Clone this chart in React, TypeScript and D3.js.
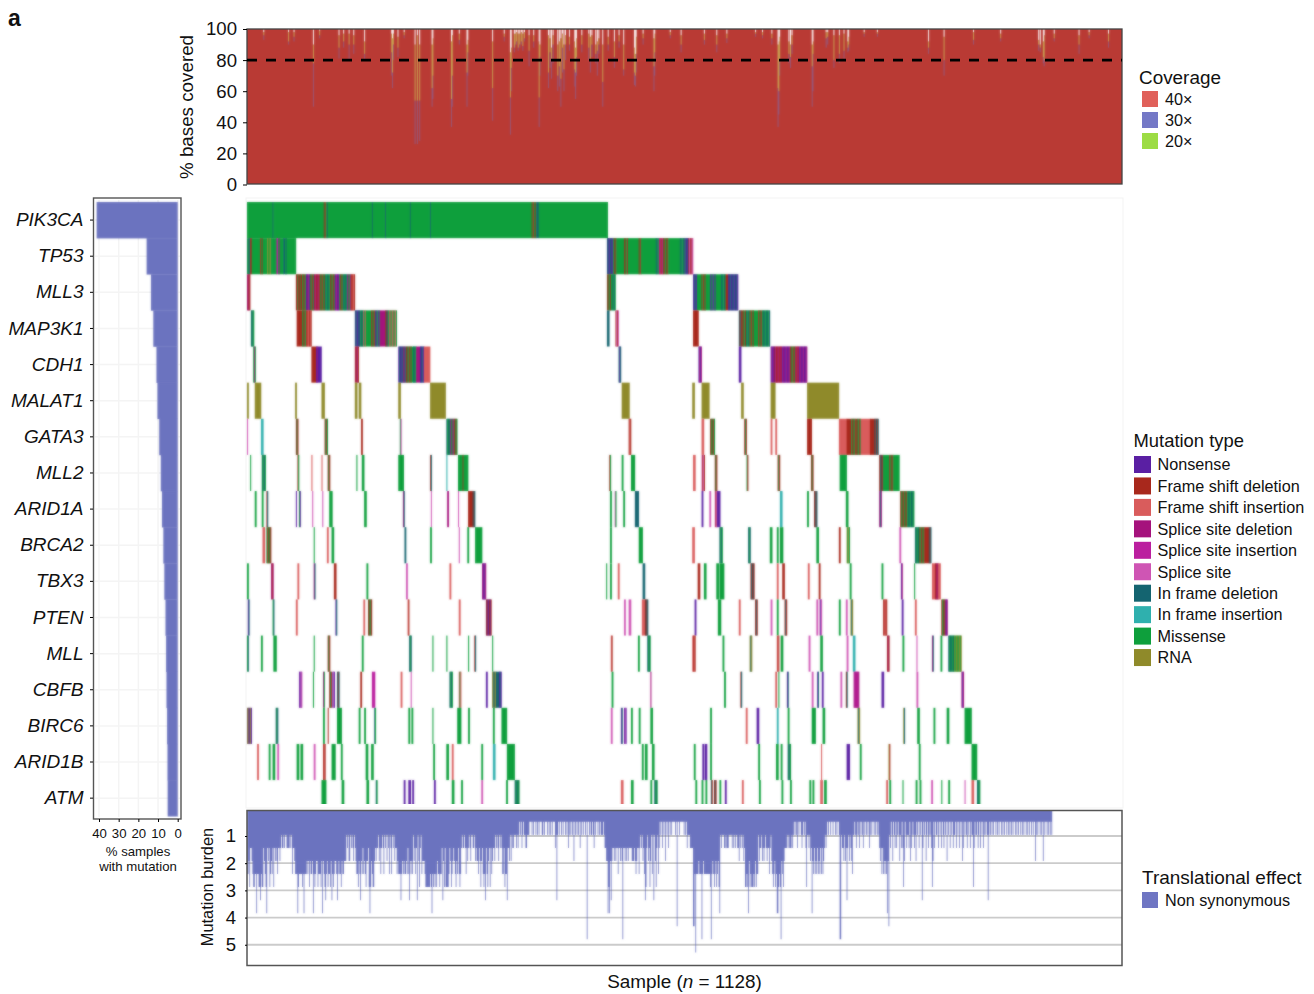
import { useEffect, useRef } from 'react'
import * as d3 from 'd3'

const genes = ['PIK3CA', 'TP53', 'MLL3', 'MAP3K1', 'CDH1', 'MALAT1', 'GATA3', 'MLL2', 'ARID1A', 'BRCA2', 'TBX3', 'PTEN', 'MLL', 'CBFB', 'BIRC6', 'ARID1B', 'ATM']
const percentMutated = [41.2, 15.8, 13.6, 12.4, 10.8, 10.3, 9.4, 8.6, 8.0, 7.3, 6.8, 6.2, 5.9, 5.7, 5.4, 5.2, 5.1]

const nSamples = 1128

const mutationLabels = ['Nonsense', 'Frame shift deletion', 'Frame shift insertion', 'Splice site deletion', 'Splice site insertion', 'Splice site', 'In frame deletion', 'In frame insertion', 'Missense', 'RNA']
const mutationCodes = ['N', 'D', 'I', 'P', 'Q', 'S', 'T', 'U', 'M', 'R']
const mutationColors = ['#5a1fa3', '#a8281c', '#d95c5c', '#a5127c', '#bb1f9f', '#cf55b4', '#146470', '#2fb0ae', '#0e9f3c', '#8f8a2a']

// one string per gene: <first sample><type(s)><number of samples>
// several letters = the samples in that stretch alternate between those types
const pik3ca = '0M465 33TM2 99DM3 102MT3 161TM2 178TM2 210TM2 236TM2 367DM6 373T3'
const tp53 = '0MT4 4D2 6M10 16MD4 20M6 26RM6 32M6 38Q2 40MP3 43M4 47T2 49MT2 51M12 464TN8 472MD5 477M8 485MD6 491M14 505DM4 509M17 526MT5 531QD6 537MD7 544M14 558TM6 564NT5 569DS6'
const mll3 = '0PD4 63DDM9 72DM4 76NP5 81MD5 86PD8 94MD6 100MT7 107DM6 113PN6 119MD4 123MT6 129PM5 134DI5 464DM6 470MT5 575NT5 580M6 586DM5 591M6 597NM7 604M7 611TM6 617D3 620NT13'
const map3k1 = '5TM4 64D6 70DM6 76DI7 139TN6 145TM5 150IM4 154M6 160DM5 165NM6 171P7 178DT4 182MI11 464T3 475DS4 575D7 634TD4 638DM5 643MT5 648DM6 654M5 659DM5 664MT10'
const cdh1 = '8MP3 83D6 89NP2 91N5 139DP5 195NT6 201PT4 205DM8 213MT5 218P5 223NT5 228I8 479TN3 582NP4 634N3 675NP5 680DP10 690NP10 700DM6 706DP6 712NP10'
const malat1 = '0R2 10R8 62R2 96R4 139R3 144R3 195R3 236R20 483R10 574R3 586R10 637R3 675R6 722R41'
const gata3 = '0S1 18U3 63DM3 100DM4 147D2 197MS2 257TM5 262PM5 267DM4 492DI3 586I3 597DM6 641DM3 675I2 681I2 722D6 763I10 773D5 778DM7 785DM6 791I12 803D5 808DT6'
const mll2 = '4M1 19MT5 65DM2 83I1 96I1 104DM3 141M1 148M3 195M7 236DT2 257U1 272M6 278DM2 280M5 467DM2 483M2 495M5 575I3 586SD4 603DM3 644MD2 684DM3 727DM3 764M9 815DT5 820M7 827MD6 833M8'
const arid1a = '10M2 19M2 25DT2 63N1 67MN2 84S1 97S1 106M4 151M3 201PT2 237S1 258P2 272S1 285D5 290DT4 468M2 474SM2 485M2 500T5 586N2 596S2 603SD3 606N4 687U3 722M2 731DT4 772M3 815PT3 842DM9 851MT9'
const brca2 = '20I3 25MD6 86M1 103I2 109M3 203T2 236M2 273S1 284M2 294M9 468M2 505M5 574I3 609TM4 646TM3 674M3 683M2 687M4 734M3 763D2 773RM4 841S2 861TM6 867DM6 873D5 878DT4'
const tbx3 = '0M2 31PD3 65I2 86PT2 112D3 154M2 205S2 261I2 303PN5 463M1 468M2 478I2 510T3 581D3 589M3 605M3 609M6 649DT5 683I2 690D3 723I2 737D2 777M2 818M2 843NP2 860M1 883I4 887DP4 891I3'
const pten = '1NT2 33MT2 63I2 114NT2 150I2 156DM5 207ID2 273I2 308DN7 486S2 492S3 509I4 513DT4 577N2 607M4 634I2 655DT3 675S2 683M2 693DT3 734S2 738SN3 763M2 772S2 778RT3 820DI5 844N2 861I2 895DM5 900PN3'
const mll = '0MT2 18M2 34M4 86M1 104DM3 148M2 209TM3 239M1 257M1 285M1 293DT2 316M1 469ID2 504M2 516TM4 574ID4 613M2 648RT3 683ID3 688M3 724S2 739M3 773S2 781U3 825DP3 845M2 863S1 883PT2 894M2 904TM8 912RM9'
const cbfb = '67NS4 85M1 98PM2 106DM3 110NS3 116TD3 146D2 161Q4 198I2 211S1 261TM4 273IM3 308N2 316RT12 322T3 325NT3 470M2 520PS1 615M2 636DT2 681I2 685M1 696NT2 728S2 735NT2 741N2 765S2 772DT2 782PQ7 818N3 863S2 921PN3'
const birc6 = '0RN6 37TM3 98M2 104DM1 116M6 144M2 151M2 164TM2 208M2 212M2 239M1 271M5 285M2 317M2 328M7 469S2 482NT2 486NS3 495M2 505M2 520M3 597M2 643I2 657N3 683U2 697M2 728M5 742M3 787RT3 846RT2 864M3 885M2 902M3 925M9'
const arid1b = '13I2 28M2 33M3 39S2 64M3 69M3 86S2 98DI3 109M5 121M2 153M3 160M3 240M2 257M3 264I2 302M2 317U3 335M10 509M2 513M3 522M3 576M2 587N2 590N3 597M2 659M2 682M3 688M2 697TM4 740I1 773N4 790M2 827RD2 866M2 934M7'
const atm = '96M6 122M3 154M3 166TM2 202N2 208N3 213N2 241N2 264M3 276M2 302S2 334M2 345TM6 482I3 495M3 520M2 525TM4 578M2 586M2 591M2 598TD2 602DT3 609M2 616N2 638I2 660M2 689M2 700M2 725M2 729M2 739I3 744M3 824I2 828M2 845M1 862M2 867M2 882S2 895M1 904M2 925S1 934I3 941TM4'
const mutationRuns = [pik3ca, tp53, mll3, map3k1, cdh1, malat1, gata3, mll2, arid1a, brca2, tbx3, pten, mll, cbfb, birc6, arid1b, atm]

const coverageLabels = ['40×', '30×', '20×']
const coverageColors = ['#e0605a', '#7478c6', '#9cdc44']
const coverageTicks = [0, 20, 40, 60, 80, 100]
// samples that dip below 100%: [sample, % at 40x, % at 30x, % at 20x]
const coverageDips = [
  [21, 93, 96, 98], [53, 90, 92, 98], [60, 92, 95, 98], [85, 50, 78, 90], [93, 94, 96, 99], [118, 81, 88, 96], [124, 88, 92, 97],
  [131, 80, 90, 97], [137, 84, 90, 96], [151, 80, 84, 92], [186, 70, 85, 97], [187, 62, 72, 94], [188, 80, 90, 97], [194, 82, 88, 95],
  [202, 94, 96, 98], [216, 26, 54, 90], [219, 26, 54, 96], [222, 28, 54, 90], [238, 50, 62, 90], [239, 55, 70, 94], [263, 37, 55, 92], [264, 50, 70, 96],
  [273, 90, 93, 97], [283, 50, 72, 90], [284, 70, 85, 93], [316, 41, 62, 92], [331, 92, 95, 97], [339, 32, 56, 85], [340, 60, 75, 88],
  [344, 85, 88, 97], [345, 88, 90, 97], [347, 90, 92, 98], [349, 86, 88, 97], [351, 88, 90, 97], [353, 90, 92, 98], [355, 86, 89, 97],
  [357, 92, 94, 98], [363, 76, 86, 96], [369, 88, 92, 96], [376, 37, 56, 92], [377, 70, 82, 90], [388, 62, 72, 96], [390, 75, 85, 94],
  [392, 68, 80, 88], [394, 78, 90, 96], [400, 60, 70, 90], [402, 63, 76, 92], [404, 50, 68, 94], [406, 72, 88, 97], [408, 60, 74, 90],
  [410, 80, 90, 96], [415, 86, 90, 95], [422, 63, 74, 92], [423, 55, 72, 88], [424, 70, 82, 94], [431, 85, 90, 96], [440, 80, 88, 97],
  [442, 72, 80, 95], [444, 82, 90, 96], [449, 78, 84, 90], [451, 70, 86, 92], [453, 84, 90, 94], [458, 50, 66, 90], [465, 86, 90, 95],
  [473, 75, 82, 92], [479, 88, 92, 96], [485, 70, 74, 90], [499, 64, 72, 88], [500, 63, 70, 84], [501, 72, 84, 95], [510, 90, 94, 97],
  [524, 60, 76, 94], [525, 70, 85, 97], [545, 94, 96, 98], [559, 85, 90, 96], [589, 90, 93, 97], [605, 85, 90, 96], [618, 91, 94, 97],
  [655, 95, 97, 98], [664, 94, 96, 98], [676, 90, 94, 97], [684, 37, 62, 90], [685, 45, 60, 92], [686, 70, 80, 95], [698, 78, 84, 92],
  [700, 75, 82, 90], [702, 84, 90, 96], [728, 50, 76, 90], [729, 60, 84, 92], [746, 88, 94, 98], [748, 90, 95, 98], [756, 75, 80, 96],
  [763, 78, 84, 96], [769, 80, 86, 97], [774, 85, 88, 92], [775, 86, 90, 95], [795, 95, 97, 98], [812, 95, 97, 98], [878, 84, 88, 92],
  [898, 70, 80, 95], [936, 90, 93, 98], [971, 92, 94, 97], [1020, 86, 90, 93], [1022, 85, 88, 90], [1026, 78, 82, 92], [1027, 76, 80, 96],
  [1040, 92, 94, 97], [1072, 84, 90, 96], [1085, 94, 96, 98], [1110, 88, 92, 97],
]

// mutations per sample, one digit per sample (a = 10, b = 11): [first sample, digits]
const burdenUnit = 0.48
const burdenTicks = [1, 2, 3, 4, 5]
const burdenBody: [number, string][] = [
  [0, '5546334566556556665663456434'], [28, '3654536343453343'], [44, '2332322333323253'], [60, '34555665555656555'],
  [77, '4546455445654465556454565546556455654456545564554'], [126, '44'], [128, '232442323423'], [140, '455645345354564436564566'],
  [164, '4343324'], [171, '3532352324235235'], [187, '2324'], [191, '33545554545455453544545'], [214, '24353424632544'],
  [228, '456666665665656'], [243, '56455655'], [251, '3546366665346543456453565'], [276, '3233235343234223324'],
  [295, '3445346435654356436354334'], [320, '232342323553655433424233222323'], [350, '212132122332221'],
  [365, '11212112121211122121112121212111321212112121'], [409, '1212132121214121212131212112121'], [440, '121221231211212122212'],
  [461, '33446664343343433533434433434343334'], [495, '344434543353'], [507, '2324352632436425232463253'],
  [532, '12131214121312'], [546, '12111121211211111212132'], [569, '22333'], [574, '34555555455555455555555655'],
  [600, '4565465465'], [610, '232223323332222323232'], [631, '2334232324'], [641, '366566465666564655'],
  [659, '24332434323433532'], [676, '456546546656345643'], [694, '33232333232'], [705, '121231211232121312'],
  [723, '23243545354535'], [737, '45353543232'], [748, '121121121121211212'], [766, '2334243232423452'], [782, '212321232'],
  [790, '1212312121213212112121212'], [815, '3435354545645'], [828, '231241231321242313241232231432123241'],
  [864, '2131212312142132'], [880, '123141312213121312312141213121322131213121431212312131221312'], [940, '2132131213212'],
  [953, '121212121211212121121212112121212'], [986, '1211212121121212112121211212112'], [1017, '212112121212112121'], [1035, '212'],
]
// the tall single samples: [sample, mutations]
const burdenPeaks = [
  [12, 8], [17, 7], [25, 8], [65, 8], [73, 8], [85, 8], [97, 8], [101, 7], [109, 7], [116, 7], [146, 7], [158, 8], [198, 7], [209, 7],
  [219, 7], [238, 8], [252, 7], [307, 7], [335, 7], [399, 7], [438, 10], [465, 8], [467, 8], [469, 7], [484, 10], [513, 7], [524, 7],
  [554, 9], [575, 9], [576, 9], [578, 11], [586, 10], [598, 10], [609, 8], [646, 8], [683, 8], [684, 8], [688, 10], [721, 6], [728, 8],
  [764, 10], [765, 10], [773, 7], [825, 8], [827, 9], [846, 6], [870, 7], [883, 6], [936, 6], [955, 7], [1016, 4], [1026, 4],
]

function expandRuns(text: string) {
  // sample -> type code, later tokens paint over earlier ones
  const cells = new Map<number, string>()
  text.split(' ').forEach((token) => {
    const m = token.match(/^(\d+)([A-Z]+)(\d*)$/)
    if (!m) return
    const start = +m[1]
    const len = m[3] ? +m[3] : 1
    for (let i = 0; i < len; i++) cells.set(start + i, m[2][i % m[2].length])
  })
  return cells
}

function burdenBySample() {
  const values = new Array(nSamples).fill(0)
  burdenBody.forEach(([start, digits]) => {
    digits.split('').forEach((c, i) => {
      values[start + i] = parseInt(c, 16)
    })
  })
  burdenPeaks.forEach(([s, k]) => {
    values[s] = k
  })
  return values
}

function App() {
  const svgRef = useRef<SVGSVGElement>(null)

  useEffect(() => {
    const svg = d3.select(svgRef.current)
    svg.selectAll('*').remove()
    svg.attr('font-family', '"Liberation Sans", Arial, sans-serif').attr('fill', '#111')

    const panelLeft = 247
    const panelRight = 1122
    const x = d3.scaleLinear().domain([0, nSamples]).range([panelLeft, panelRight])

    // the reference is a soft scan. a blur below 0.8 does nothing in the browser,
    // so take the smallest real one and mix it with the sharp picture
    const defs = svg.append('defs')
    const addBlur = (id: string, amount: string, mix: number) => {
      const f = defs.append('filter').attr('id', id)
        .attr('color-interpolation-filters', 'sRGB')
        .attr('x', '-2%').attr('y', '-2%').attr('width', '104%').attr('height', '104%')
      f.append('feGaussianBlur').attr('stdDeviation', amount).attr('result', 'b')
      f.append('feComposite').attr('in', 'b').attr('in2', 'SourceGraphic')
        .attr('operator', 'arithmetic')
        .attr('k1', 0).attr('k2', mix).attr('k3', 1 - mix).attr('k4', 0)
    }
    addBlur('soft', '0.95 0.9', 0.6)
    addBlur('softBars', '0.9 0.9', 0.6)
    addBlur('softBurden', '0.95 0.9', 0.55)
    addBlur('softCov', '0.95 0.95', 0.6)
    defs.append('clipPath').attr('id', 'heatClip').append('rect').attr('x', panelLeft - 1).attr('y', 198).attr('width', panelRight - panelLeft + 2).attr('height', 606)
    defs.append('clipPath').attr('id', 'burdenClip').append('rect').attr('x', panelLeft).attr('y', 811).attr('width', panelRight - panelLeft).attr('height', 154)
    defs.append('clipPath').attr('id', 'covClip').append('rect').attr('x', panelLeft).attr('y', 29).attr('width', panelRight - panelLeft).attr('height', 155)

    svg.append('text').attr('x', 8).attr('y', 26).attr('font-size', 23).attr('font-weight', 'bold').text('a')

    // coverage panel
    const yCov = d3.scaleLinear().domain([0, 100]).range([184.5, 29])
    const cov = svg.append('g').attr('clip-path', 'url(#covClip)').append('g').attr('filter', 'url(#softCov)')
    cov.append('rect')
      .attr('x', x(0) - 5).attr('width', x(nSamples) - x(0) + 10)
      .attr('y', yCov(100) - 5).attr('height', yCov(0) - yCov(100) + 10)
      .attr('fill', '#b93a34')
    const covLayers: [number, number, string, number][] = [
      [1, 2, coverageColors[1], 0.5],
      [2, 3, '#cfd060', 0.7],
    ]
    covLayers.forEach(([a, b, color, alpha]) => {
      cov.append('g').selectAll('rect').data(coverageDips).join('rect')
        .attr('x', (d) => x(d[0])).attr('width', x(1) - x(0) + 0.2)
        .attr('y', (d) => yCov(d[b])).attr('height', (d) => yCov(d[a]) - yCov(d[b]))
        .attr('fill', color).attr('fill-opacity', alpha)
    })
    cov.append('g').selectAll('rect').data(coverageDips).join('rect')
      .attr('x', (d) => x(d[0])).attr('width', x(1) - x(0) + 0.2)
      .attr('y', yCov(100)).attr('height', (d) => yCov(d[3]) - yCov(100))
      .attr('fill', '#fff')
    svg.append('rect')
      .attr('x', panelLeft).attr('y', 29).attr('width', panelRight - panelLeft).attr('height', 155)
      .attr('fill', 'none').attr('stroke', '#444').attr('stroke-width', 1.3)
    svg.append('line')
      .attr('x1', panelLeft).attr('x2', panelRight)
      .attr('y1', yCov(80)).attr('y2', yCov(80))
      .attr('stroke', '#000').attr('stroke-width', 2.6).attr('stroke-dasharray', '10 9')

    const covAxis = svg.append('g').attr('transform', `translate(${panelLeft},0)`)
      .call(d3.axisLeft(yCov).tickValues(coverageTicks).tickSize(4).tickPadding(6))
    covAxis.select('.domain').remove()
    covAxis.selectAll('text').attr('font-size', 18.6).attr('font-family', null).attr('fill', '#111')

    svg.append('text')
      .attr('transform', 'translate(193,107) rotate(-90)')
      .attr('text-anchor', 'middle').attr('font-size', 18.8)
      .text('% bases covered')

    // mutation matrix
    const yGene = d3.scaleBand().domain(genes).range([202, 202 + 17 * 36.13])
    svg.append('rect')
      .attr('x', panelLeft - 1).attr('y', 198).attr('width', panelRight - panelLeft + 2).attr('height', 610)
      .attr('fill', '#fff').attr('stroke', '#f3f3f3')
    const colorOf = d3.scaleOrdinal<string, string>().domain(mutationCodes).range(mutationColors)
    const heat = svg.append('g').attr('clip-path', 'url(#heatClip)').append('g').attr('filter', 'url(#soft)')
    genes.forEach((gene, g) => {
      const cells = expandRuns(mutationRuns[g])
      const samples = Array.from(cells.keys()).sort((a, b) => a - b)
      // merge neighbouring samples of one type
      const rects: { start: number; end: number; type: string; joined: boolean }[] = []
      samples.forEach((s) => {
        const last = rects[rects.length - 1]
        const type = cells.get(s) as string
        if (last && last.end === s && last.type === type) last.end = s + 1
        else rects.push({ start: s, end: s + 1, type, joined: false })
      })
      rects.forEach((r) => {
        r.joined = cells.has(r.end)
      })
      heat.append('g').selectAll('rect').data(rects).join('rect')
        .attr('x', (d) => x(d.start))
        .attr('width', (d) => x(d.end) - x(d.start) + (d.joined ? 0.5 : 0.3))
        .attr('y', yGene(gene) as number)
        .attr('height', yGene.bandwidth())
        .attr('fill', (d) => colorOf(d.type))
    })

    // % samples bars on the left
    const xPct = d3.scaleLinear().domain([0, 40]).range([177.7, 99])
    const bars = svg.append('g')
    bars.append('rect').attr('x', 93.5).attr('y', 198).attr('width', 87.5).attr('height', 621).attr('fill', '#fff')
    xPct.ticks(4).forEach((t) => {
      bars.append('line').attr('x1', xPct(t)).attr('x2', xPct(t)).attr('y1', 200).attr('y2', 817).attr('stroke', '#f4f4f4').attr('stroke-width', 1.5)
    })
    genes.forEach((gene) => {
      const yMid = (yGene(gene) as number) + yGene.bandwidth() / 2
      bars.append('line').attr('x1', 95).attr('x2', 180).attr('y1', yMid).attr('y2', yMid).attr('stroke', '#f4f4f4').attr('stroke-width', 1.5)
    })
    bars.append('g').attr('filter', 'url(#softBars)').selectAll('rect').data(percentMutated).join('rect')
      .attr('x', (d) => xPct(d))
      .attr('width', (d) => xPct(0) - xPct(d))
      .attr('y', (_, i) => yGene(genes[i]) as number)
      .attr('height', yGene.bandwidth() + 0.3)
      .attr('fill', '#6b73bf')
    bars.append('rect').attr('x', 93.5).attr('y', 198).attr('width', 87.5).attr('height', 621)
      .attr('fill', 'none').attr('stroke', '#555').attr('stroke-width', 1.4)

    const geneAxis = svg.append('g').attr('transform', 'translate(93,0)')
      .call(d3.axisLeft(yGene).tickSize(3).tickPadding(6.5))
    geneAxis.select('.domain').remove()
    geneAxis.selectAll('text').attr('font-size', 19).attr('font-style', 'italic').attr('font-family', null).attr('fill', '#111')

    const pctAxis = svg.append('g').attr('transform', 'translate(0,819)')
      .call(d3.axisBottom(xPct).ticks(4).tickSize(3).tickPadding(7))
    pctAxis.select('.domain').remove()
    pctAxis.selectAll('text').attr('font-size', 13.2).attr('font-family', null).attr('fill', '#111')

    const pctTitle = svg.append('text').attr('text-anchor', 'middle').attr('font-size', 13.2)
    pctTitle.append('tspan').attr('x', 138).attr('y', 856).text('% samples')
    pctTitle.append('tspan').attr('x', 138).attr('y', 871).text('with mutation')

    // mutation burden panel
    const yBurden = d3.scaleLinear().domain([0, 5.7]).range([808.8, 963.8])
    svg.append('rect').attr('x', panelLeft).attr('y', 811).attr('width', panelRight - panelLeft).attr('height', 154).attr('fill', '#fff')
    burdenTicks.forEach((t) => {
      svg.append('line').attr('x1', panelLeft).attr('x2', panelRight).attr('y1', yBurden(t)).attr('y2', yBurden(t)).attr('stroke', '#cbcbcb').attr('stroke-width', 1.8)
    })
    const burden = burdenBySample()
    const burdenArea = d3.area<number>()
      .curve(d3.curveStepAfter)
      .x((_, i) => x(i))
      .y0(yBurden(0))
      .y1((d) => yBurden(d * burdenUnit))
    svg.append('g').attr('clip-path', 'url(#burdenClip)')
      .append('g').attr('filter', 'url(#softBurden)')
      .append('path').datum(burden).attr('d', burdenArea).attr('fill', '#6b73bf')
    svg.append('rect').attr('x', panelLeft).attr('y', 810.5).attr('width', panelRight - panelLeft).attr('height', 155)
      .attr('fill', 'none').attr('stroke', '#555').attr('stroke-width', 1.5)

    const burdenAxis = svg.append('g').attr('transform', `translate(${panelLeft},0)`)
      .call(d3.axisLeft(yBurden).tickValues(burdenTicks).tickFormat(d3.format('d') as any).tickSize(2).tickPadding(9))
    burdenAxis.select('.domain').remove()
    burdenAxis.selectAll('text').attr('font-size', 18.6).attr('font-family', null).attr('fill', '#111')

    svg.append('text')
      .attr('transform', 'translate(213,887) rotate(-90)')
      .attr('text-anchor', 'middle').attr('font-size', 16.4)
      .text('Mutation burden')

    const sampleTitle = svg.append('text').attr('x', 684.5).attr('y', 988).attr('text-anchor', 'middle').attr('font-size', 18.9)
    sampleTitle.append('tspan').text('Sample (')
    sampleTitle.append('tspan').attr('font-style', 'italic').text('n')
    sampleTitle.append('tspan').text(' = 1128)')

    // legends
    const legend = (title: string, titleX: number, titleY: number, titleSize: number, labels: string[], colors: string[], swatchX: number, firstY: number, step: number, textX: number, size: number) => {
      svg.append('text').attr('x', titleX).attr('y', titleY).attr('font-size', titleSize).text(title)
      labels.forEach((label, i) => {
        svg.append('rect').attr('x', swatchX).attr('y', firstY + i * step).attr('width', size).attr('height', size).attr('fill', colors[i])
        svg.append('text').attr('x', textX).attr('y', firstY + i * step + size / 2).attr('dy', '0.36em').attr('font-size', 16.2).text(label)
      })
    }
    legend('Coverage', 1139, 84, 18.9, coverageLabels, coverageColors, 1142, 91, 21, 1165, 16)
    legend('Mutation type', 1133.5, 447, 18.4, mutationLabels, mutationColors, 1134, 456, 21.45, 1157.5, 17)
    legend('Translational effect', 1142, 884, 19, ['Non synonymous'], ['#6f76c3'], 1142, 892, 21, 1165, 16)
  }, [])

  return <svg ref={svgRef} width={1314} height={994} style={{ position: 'absolute', left: 0, top: 0, background: '#fff' }} />
}

export default App
